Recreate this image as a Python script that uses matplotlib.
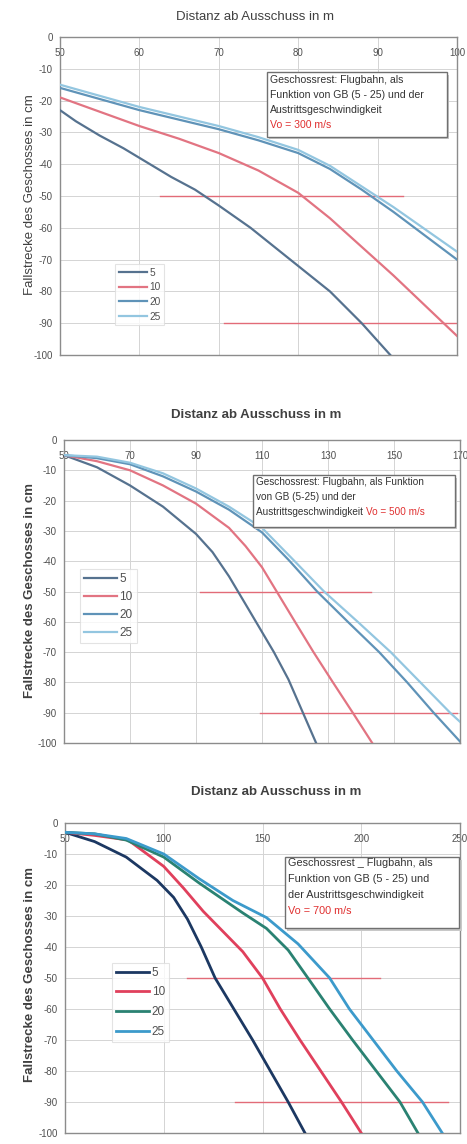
import matplotlib
matplotlib.use("Agg")
import matplotlib.pyplot as plt
from matplotlib.patches import Rectangle

plt.rcParams['font.family'] = ['Liberation Sans', 'DejaVu Sans']
plt.rcParams['axes.unicode_minus'] = False
plt.rcParams['lines.solid_joinstyle'] = 'round'

series_labels = ["5", "10", "20", "25"]

# ---------- Panel 1 (x 50..100) ----------
p1_x5 = [50, 52, 55, 58, 61, 64, 67, 70, 74, 79, 84, 88, 91.6]
p1_y5 = [-23, -26.5, -31, -35, -39.5, -44, -48, -53, -60, -70, -80, -90, -100]
p1_x10 = [50, 55, 60, 65, 70, 75, 80, 84, 88, 92, 96, 100]
p1_y10 = [-19, -23.5, -28, -32, -36.5, -42, -49, -57, -66, -75, -84.5, -94]
p1_x20 = [50, 55, 60, 65, 70, 75, 80, 84, 88, 92, 96, 100]
p1_y20 = [-16, -19.5, -23, -26, -29, -32.5, -36.5, -41.5, -48, -55, -62.5, -70]
p1_x25 = [50, 55, 60, 65, 70, 75, 80, 84, 88, 92, 96, 100]
p1_y25 = [-15, -18.5, -22, -25, -28, -31.5, -35.5, -40.5, -47, -53.5, -60.5, -67.5]
p1_hlines = [(-50, 62.6, 93.2), (-90, 70.7, 100)]
p1_xticks = [50, 60, 70, 80, 90, 100]

# ---------- Panel 2 (x 50..170) ----------
p2_x5 = [50, 60, 70, 80, 90, 95, 100, 106, 113.6, 118, 122, 126.4]
p2_y5 = [-5, -9, -15, -22, -31, -37, -45, -56, -70, -79, -89, -100]
p2_x10 = [50, 60, 70, 80, 90, 100, 105, 110, 115, 120, 125.6, 131.5, 137.5, 143.4]
p2_y10 = [-5, -7, -10, -15, -21, -29, -35, -42, -51, -60, -70, -80, -90, -100]
p2_x20 = [50, 60, 70, 80, 90, 100, 110, 118, 126.7, 136, 145.5, 154, 162, 170]
p2_y20 = [-5, -6, -8, -12, -17, -23, -30.5, -39.5, -50, -60, -70, -80, -90, -99.5]
p2_x25 = [50, 60, 70, 80, 90, 100, 110, 119, 128.8, 139, 149, 158, 167, 170]
p2_y25 = [-5, -5.5, -7.5, -11, -16, -22, -29, -39, -50, -60, -70, -80, -90, -93]
p2_hlines = [(-50, 91.3, 143), (-90, 109.5, 169)]
p2_xticks = [50, 70, 90, 110, 130, 150, 170]

# ---------- Panel 3 (x 50..250) ----------
p3_x5 = [50, 65, 81, 96.6, 105, 112, 119, 126, 135.5, 145, 154, 163, 171.5]
p3_y5 = [-3, -6, -11, -18.5, -24, -31, -40, -50, -60, -70, -80, -90, -100]
p3_x10 = [50, 65, 82, 100, 110, 120, 130, 140, 150, 159, 169, 179.5, 190, 200]
p3_y10 = [-3, -4, -5.5, -14, -21, -28.5, -35, -41.5, -50, -60, -70, -80, -90, -100]
p3_x20 = [50, 65, 81, 100, 118, 140, 152, 163, 173, 184, 195.6, 207.6, 219.6, 228.7]
p3_y20 = [-3, -3.5, -5.5, -11, -19.4, -29, -34, -41, -50, -60, -70, -80, -90, -100]
p3_x25 = [50, 65, 81, 100, 118, 135, 152, 168, 184, 194, 206, 218, 231, 241]
p3_y25 = [-3, -3.5, -5, -10, -18, -25, -30.5, -39, -50, -60, -70, -80, -90, -100]
p3_hlines = [(-50, 112, 209.5), (-90, 136, 244)]
p3_xticks = [50, 100, 150, 200, 250]

yticks = list(range(0, -101, -10))

title_text = "Distanz ab Ausschuss in m"
ylabel_text = "Fallstrecke des Geschosses in cm"

W, H = 467, 1144
fig = plt.figure(figsize=(W / 100, H / 100), dpi=100)
fig.patch.set_facecolor("white")


def axes_px(left, right, top, bottom):
    return [left / W, 1 - bottom / H, (right - left) / W, (bottom - top) / H]


red_line = "#e26b78"
grid_c = "#d4d4d4"
spine_c = "#8c8c8c"
text_c = "#505050"

panels = [
    dict(rect=axes_px(60, 457, 37, 355),
         xs=[p1_x5, p1_x10, p1_x20, p1_x25], ys=[p1_y5, p1_y10, p1_y20, p1_y25],
         colors=["#56728f", "#e27482", "#5f93b8", "#93c6e0"], lw=1.6,
         hl=p1_hlines, xt=p1_xticks, xlim=(50, 100),
         title_xy=(255, 17), title_w="normal", ylab_y=195, ylab_w="normal",
         box=(0.521, 0.686, 0.975, 0.890),
         lines=["Geschossrest: Flugbahn, als", "Funktion von GB (5 - 25) und der",
                "Austrittsgeschwindigkeit"],
         red="Vo = 300 m/s", red_inline=False,
         line_y_px=[80, 95, 110, 125], text_x_px=270, top_px=37, h_px=318, l_px=60, w_px=397,
         leg=(0.139, 0.094), leg_fs=7.3, leg_sp=0.45),
    dict(rect=axes_px(64, 460, 440, 743),
         xs=[p2_x5, p2_x10, p2_x20, p2_x25], ys=[p2_y5, p2_y10, p2_y20, p2_y25],
         colors=["#56728f", "#e27482", "#5f93b8", "#93c6e0"], lw=1.6,
         hl=p2_hlines, xt=p2_xticks, xlim=(50, 170),
         title_xy=(256, 415), title_w="bold", ylab_y=590, ylab_w="bold",
         box=(0.477, 0.713, 0.987, 0.884),
         lines=["Geschossrest: Flugbahn, als Funktion", "von GB (5-25) und der",
                "Austrittsgeschwindigkeit "],
         red="Vo = 500 m/s", red_inline=True,
         line_y_px=[482, 497, 512], text_x_px=256, top_px=440, h_px=303, l_px=64, w_px=396,
         leg=(0.04, 0.33), leg_fs=8.5, leg_sp=0.5),
    dict(rect=axes_px(65, 460, 823, 1133),
         xs=[p3_x5, p3_x10, p3_x20, p3_x25], ys=[p3_y5, p3_y10, p3_y20, p3_y25],
         colors=["#1c3862", "#e0405c", "#2a8272", "#3c9acb"], lw=2.0,
         hl=p3_hlines, xt=p3_xticks, xlim=(50, 250),
         title_xy=(276, 792), title_w="bold", ylab_y=975, ylab_w="bold",
         box=(0.557, 0.661, 0.998, 0.890),
         lines=["Geschossrest _ Flugbahn, als", "Funktion von GB (5 - 25) und",
                "der Austrittsgeschwindigkeit"],
         red="Vo = 700 m/s", red_inline=False,
         line_y_px=[863, 879, 895, 911], text_x_px=288, top_px=823, h_px=310, l_px=65, w_px=395,
         leg=(0.119, 0.294), leg_fs=8.5, leg_sp=0.65),
]
box_fs = [7.6, 7.2, 7.8]

for p, bfs in zip(panels, box_fs):
    ax = fig.add_axes(p["rect"])
    ax.set_xlim(*p["xlim"])
    ax.set_ylim(-100, 0)
    ax.set_xticks(p["xt"])
    ax.set_yticks(yticks)
    ax.grid(True, color=grid_c, lw=0.7)
    ax.set_axisbelow(True)
    for s in ax.spines.values():
        s.set_color(spine_c)
        s.set_linewidth(1.0)
    ax.xaxis.set_ticks_position("top")
    ax.tick_params(axis="x", which="both", length=0, pad=-15, labelsize=7,
                   labelcolor=text_c, labeltop=True, labelbottom=False)
    ax.tick_params(axis="y", length=0, pad=5, labelsize=7, labelcolor=text_c)

    for yv, x0, x1 in p["hl"]:
        ax.plot([x0, x1], [yv, yv], color=red_line, lw=1.0, zorder=2)

    for xs, ys, c, lab in zip(p["xs"], p["ys"], p["colors"], series_labels):
        ax.plot(xs, ys, color=c, lw=p["lw"], label=lab, zorder=3)

    leg = ax.legend(loc="lower left", bbox_to_anchor=p["leg"], fontsize=p["leg_fs"],
                    frameon=True, fancybox=False, handlelength=2.8, handletextpad=0.2,
                    borderpad=0.35, labelspacing=p["leg_sp"], borderaxespad=0)
    leg.get_frame().set_edgecolor("#dddddd")
    leg.get_frame().set_linewidth(0.8)
    for t in leg.get_texts():
        t.set_color(text_c)

    bx0, by0, bx1, by1 = p["box"]
    ax.add_patch(Rectangle((bx0 + 0.006, by0 - 0.008), bx1 - bx0, by1 - by0,
                           transform=ax.transAxes, facecolor="#c8c8c8", edgecolor="none",
                           zorder=4, clip_on=False))
    ax.add_patch(Rectangle((bx0, by0), bx1 - bx0, by1 - by0, transform=ax.transAxes,
                           facecolor="white", edgecolor="#707070", lw=1.0, zorder=5,
                           clip_on=False))
    tx = (p["text_x_px"] - p["l_px"]) / p["w_px"]
    last = None
    for i, line in enumerate(p["lines"]):
        ty = 1 - (p["line_y_px"][i] - p["top_px"]) / p["h_px"]
        last = ax.text(tx, ty, line, transform=ax.transAxes, fontsize=bfs,
                       color="#333333", ha="left", va="center", zorder=6)
    if p["red_inline"]:
        ax.annotate(p["red"], xy=(1, 0), xycoords=last, va="bottom", ha="left",
                    fontsize=bfs, color="#e03030", zorder=6)
    else:
        ty = 1 - (p["line_y_px"][3] - p["top_px"]) / p["h_px"]
        ax.text(tx, ty, p["red"], transform=ax.transAxes, fontsize=bfs,
                color="#e03030", ha="left", va="center", zorder=6)

    fig.text(p["title_xy"][0] / W, 1 - p["title_xy"][1] / H, title_text, ha="center",
             va="center", fontsize=9.5, color="#404040", fontweight=p["title_w"])
    fig.text(30 / W, 1 - p["ylab_y"] / H, ylabel_text, rotation=90, ha="center",
             va="center", fontsize=9.5, color="#404040", fontweight=p["ylab_w"])

fig.savefig("out.png", dpi=100, facecolor="white")
